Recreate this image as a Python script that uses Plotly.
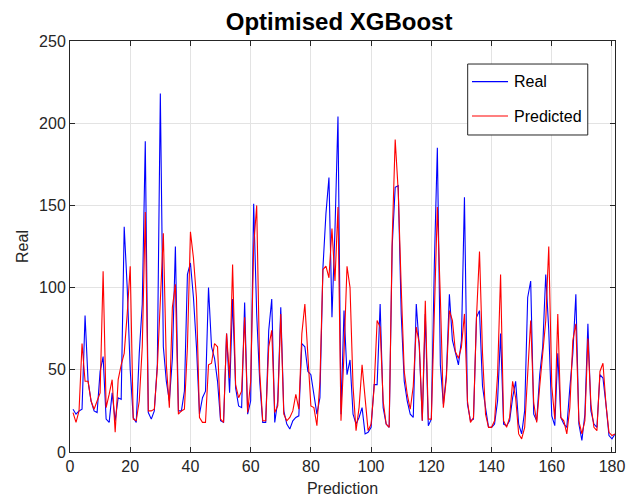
import plotly.graph_objects as go

x_index = list(range(1, 182))

real = [26, 23, 25, 26, 83, 43, 31, 25, 24, 49, 58, 20, 18, 36, 19, 33, 32, 137, 100, 50,
        21, 18, 60, 90, 189, 24, 20, 25, 53, 218, 64, 43, 31, 57, 125, 25, 25, 37, 108, 115,
        94, 64, 23, 33, 37, 100, 64, 57, 43, 19, 18, 72, 36, 93, 39, 28, 27, 91, 23, 31,
        151, 84, 43, 18, 18, 74, 93, 18, 31, 88, 25, 17, 14, 19, 21, 22, 66, 64, 49, 47,
        35, 23, 33, 112, 145, 167, 82, 135, 204, 23, 86, 47, 56, 23, 17, 21, 27, 11, 12, 15,
        41, 41, 90, 27, 17, 15, 125, 161, 162, 84, 43, 31, 23, 21, 90, 64, 19, 84, 16, 20,
        114, 185, 53, 29, 47, 96, 68, 61, 53, 68, 155, 29, 19, 20, 82, 86, 40, 27, 15, 15,
        17, 31, 72, 17, 16, 19, 33, 43, 17, 11, 25, 94, 104, 23, 19, 47, 64, 108, 74, 22,
        16, 60, 21, 17, 15, 39, 60, 96, 17, 7, 23, 78, 25, 17, 15, 47, 45, 29, 10, 8, 11]

predicted = [24, 18, 25, 66, 43, 43, 31, 26, 31, 36, 110, 27, 35, 44, 12, 44, 53, 60, 84, 113,
             20, 19, 31, 64, 146, 25, 25, 26, 51, 90, 133, 53, 27, 88, 102, 23, 25, 26, 64, 134,
             118, 94, 21, 18, 18, 53, 54, 66, 64, 20, 18, 72, 45, 114, 41, 33, 37, 82, 24, 43,
             125, 150, 49, 19, 19, 64, 74, 24, 28, 84, 23, 19, 21, 25, 35, 26, 72, 90, 58, 28,
             27, 16, 43, 111, 113, 106, 136, 104, 149, 19, 60, 113, 100, 40, 13, 27, 53, 31, 13, 17,
             39, 80, 76, 31, 17, 15, 129, 190, 159, 100, 49, 35, 26, 40, 76, 66, 19, 92, 20, 20,
             84, 149, 94, 27, 45, 86, 80, 61, 57, 64, 84, 31, 18, 21, 82, 122, 60, 23, 15, 15,
             19, 47, 108, 19, 15, 21, 43, 33, 11, 8, 15, 50, 80, 30, 18, 40, 59, 80, 125, 40,
             20, 84, 21, 19, 11, 27, 68, 78, 19, 11, 19, 69, 29, 15, 13, 49, 54, 29, 12, 10, 11]

series_names = ["Real", "Predicted"]
series_colors = ["#0000ff", "#ff0000"]

x_ticks = [0, 20, 40, 60, 80, 100, 120, 140, 160, 180]
y_ticks = [0, 50, 100, 150, 200, 250]

FONT = "Liberation Sans, Arial, Helvetica, sans-serif"
AX = "#262626"

fig = go.Figure()
for name, vals, col in zip(series_names, [real, predicted], series_colors):
    fig.add_trace(go.Scatter(x=x_index, y=vals, mode="lines", name=name,
                             line=dict(color=col, width=1.1), showlegend=False))

axis_common = dict(showline=True, linecolor=AX, linewidth=1, mirror="ticks",
                   ticks="inside", ticklen=5, tickcolor=AX, showgrid=True,
                   gridcolor="#e3e3e3", gridwidth=1, zeroline=False, automargin=False,
                   tickfont=dict(family=FONT, size=16, color=AX))

# Legend box (MATLAB-style), drawn in paper coordinates
shapes = [dict(type="rect", xref="paper", yref="paper", x0=0.7297, x1=0.95,
               y0=0.7713, y1=0.944, line=dict(color=AX, width=1),
               fillcolor="white", layer="above")]
annotations = []
for name, col, ly in zip(series_names, series_colors, [0.901, 0.8175]):
    shapes.append(dict(type="line", xref="paper", yref="paper", x0=0.7376, x1=0.8037,
                       y0=ly, y1=ly, line=dict(color=col, width=1.2), layer="above"))
    annotations.append(dict(text=name, xref="paper", yref="paper", x=0.811, y=ly,
                            xanchor="left", yanchor="middle", showarrow=False,
                            font=dict(family=FONT, size=16, color="black")))

fig.update_layout(
    width=635, height=499,
    margin=dict(l=70, r=20, t=41, b=47),
    paper_bgcolor="white", plot_bgcolor="white",
    title=dict(text="<b>Optimised XGBoost</b>", x=0.534, xanchor="center",
               y=0.956, yanchor="middle", yref="container",
               font=dict(family=FONT, size=24, color="black")),
    xaxis=dict(range=[0, 181], tickvals=x_ticks, title=dict(text="Prediction", standoff=8,
               font=dict(family=FONT, size=16, color=AX)), **axis_common),
    yaxis=dict(range=[0, 250], tickvals=y_ticks, title=dict(text="Real", standoff=6,
               font=dict(family=FONT, size=16, color=AX)), **axis_common),
    shapes=shapes,
    annotations=annotations,
    showlegend=False,
)

fig.write_html("out.html")
